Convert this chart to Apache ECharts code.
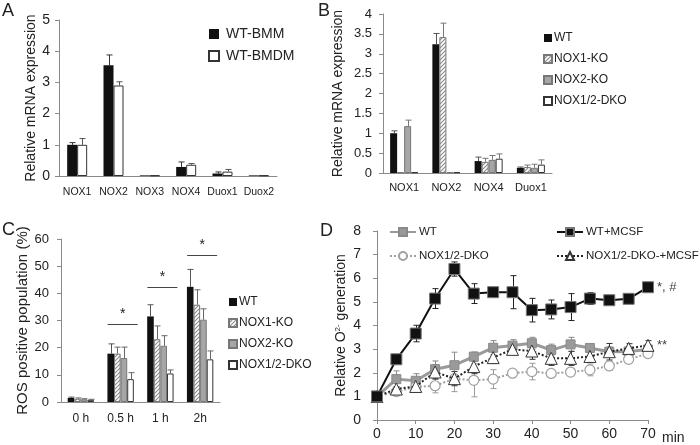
<html>
<head>
<meta charset="UTF-8">
<script src="https://cdn.jsdelivr.net/npm/echarts@6/dist/echarts.min.js"></script>
<style>
  html, body { margin: 0; background: #fff; }
  #chart { width: 700px; height: 445px; }
</style>
</head>
<body>
<div id="chart"></div>
<script>
// ---- data ----
// A: WT BMM vs BMDM
const catsA = ['NOX1', 'NOX2', 'NOX3', 'NOX4', 'Duox1', 'Duox2'];
const bmmA = [1.0, 3.55, 0.02, 0.29, 0.08, 0.02];
const bmmErrA = [0.07, 0.33, 0, 0.16, 0.05, 0];
const bmdmA = [1.0, 2.9, 0.02, 0.36, 0.14, 0.02];
const bmdmErrA = [0.2, 0.12, 0, 0.04, 0.07, 0];

// B: genotypes
const catsB = ['NOX1', 'NOX2', 'NOX4', 'Duox1'];
const wtB = [1.0, 3.24, 0.3, 0.13];
const wtErrB = [0.06, 0.27, 0.1, 0.02];
const ko1B = [0.02, 3.42, 0.28, 0.15];
const ko1ErrB = [0, 0.35, 0.09, 0.05];
const ko2B = [1.18, 0.02, 0.33, 0.13];
const ko2ErrB = [0.15, 0, 0.11, 0.09];
const dkoB = [0.02, 0.02, 0.36, 0.21];
const dkoErrB = [0, 0, 0.12, 0.12];

// C: ROS positive population
const catsC = ['0 h', '0.5 h', '1 h', '2h'];
const wtC = [1.5, 17.8, 31.5, 42.4];
const wtErrC = [0.3, 3.6, 4.3, 6.4];
const ko1C = [1.2, 17.8, 23.1, 35.8];
const ko1ErrC = [0.3, 2.4, 4.9, 5.5];
const ko2C = [1.0, 16.2, 20.7, 30.3];
const ko2ErrC = [0.2, 4.0, 3.7, 4.0];
const dkoC = [0.8, 8.4, 10.5, 15.7];
const dkoErrC = [0.2, 2.4, 1.3, 3.1];
const sigC = [[1, 28.7], [2, 42.3], [3, 54.1]];

// D: O2- generation over time
const timeD = [0, 5, 10, 15, 20, 25, 30, 35, 40, 45, 50, 55, 60, 65, 70];
const wtD = [1.0, 1.73, 1.66, 2.15, 2.32, 2.68, 3.06, 3.15, 3.25, 2.96, 3.2, 3.05, 2.89, 2.9, 2.98];
const wtErrD = [0, 0.35, 0.3, 0.35, 0.55, 0.2, 0.3, 0.25, 0.25, 0.25, 0.3, 0.12, 0.2, 0.2, 0.2];
const wtMcsfD = [1.0, 2.57, 3.66, 5.14, 6.39, 5.35, 5.41, 5.41, 4.65, 4.68, 4.78, 5.14, 5.07, 5.13, 5.62];
const wtMcsfErrD = [0, 0.1, 0.35, 0.42, 0.3, 0.42, 0.1, 0.7, 0.5, 0.4, 0.57, 0.25, 0.1, 0.1, 0.1];
const dkoD = [1.0, 1.2, 1.4, 1.45, 1.75, 1.68, 1.73, 1.98, 2.05, 1.97, 2.03, 2.12, 2.29, 2.57, 2.81];
const dkoErrD = [0, 0.1, 0.1, 0.3, 0.55, 0.7, 0.4, 0.1, 0.35, 0.1, 0.15, 0.25, 0.2, 0.1, 0.1];
const dkoMcsfD = [1.0, 1.31, 1.42, 2.03, 1.75, 2.26, 2.64, 2.99, 2.92, 2.61, 2.61, 2.69, 2.89, 3.03, 3.16];
const dkoMcsfErrD = [0, 0.1, 0.15, 0.3, 0.3, 0.3, 0.25, 0.2, 0.35, 0.3, 0.3, 0.25, 0.35, 0.2, 0.2];

// ---- styles ----
const FONT = 'Liberation Sans, Arial, sans-serif';
const TXT = '#222';
const AX = '#8a8a8a';

function hatchCanvas() {
    const c = document.createElement('canvas');
    c.width = c.height = 4;
    const g = c.getContext('2d');
    g.fillStyle = '#fff';
    g.fillRect(0, 0, 4, 4);
    g.strokeStyle = '#8a8a8a';
    g.lineWidth = 1.1;
    g.beginPath();
    g.moveTo(-1, 5); g.lineTo(5, -1);
    g.moveTo(-1, 1); g.lineTo(1, -1);
    g.moveTo(3, 5); g.lineTo(5, 3);
    g.stroke();
    return c;
}
const black = { color: '#111' };
const white = { color: '#fff', borderColor: '#333', borderWidth: 1 };
const grey = { color: '#a6a6a6', borderColor: '#777', borderWidth: 1 };
const hatched = { color: { image: hatchCanvas(), repeat: 'repeat' }, borderColor: '#777', borderWidth: 1 };

function catX(gi, data, fontSize, margin) {
    return {
        type: 'category', gridIndex: gi, data,
        axisLine: { lineStyle: { color: AX } },
        axisTick: { length: 4, lineStyle: { color: AX } },
        axisLabel: { interval: 0, fontSize, margin, color: TXT, fontFamily: FONT }
    };
}
function valY(gi, max, interval, fontSize, margin, name, nameGap, nameSize) {
    return {
        type: 'value', gridIndex: gi, min: 0, max, interval,
        splitLine: { show: false },
        axisLine: { show: true, lineStyle: { color: AX } },
        axisTick: { show: true, length: 4, lineStyle: { color: AX } },
        axisLabel: { fontSize, margin, color: TXT, fontFamily: FONT },
        name, nameLocation: 'middle', nameGap,
        nameTextStyle: { fontSize: nameSize, color: TXT, fontFamily: FONT }
    };
}
function bars(gi, name, data, style, w) {
    return {
        type: 'bar', name, xAxisIndex: gi, yAxisIndex: gi, data,
        barWidth: w, barGap: '0%', itemStyle: style, z: 2
    };
}
// upper error bar for grouped bars
function errBars(gi, vals, errs, idx, n, w, color) {
    return {
        type: 'custom', name: 'err', xAxisIndex: gi, yAxisIndex: gi, z: 3,
        data: vals.map((v, i) => [i, v, v + errs[i]]).filter(d => d[2] > d[1]),
        encode: { x: 0, y: [1, 2] },
        renderItem: (params, api) => {
            const b = api.coord([api.value(0), api.value(1)]);
            const t = api.coord([api.value(0), api.value(2)]);
            const x = Math.round(b[0] + (idx - (n - 1) / 2) * w) + 0.5;
            const st = { stroke: color, lineWidth: 1 };
            return {
                type: 'group', children: [
                    { type: 'line', shape: { x1: x, y1: b[1], x2: x, y2: t[1] }, style: st },
                    { type: 'line', shape: { x1: x - 3, y1: t[1], x2: x + 3, y2: t[1] }, style: st }
                ]
            };
        }
    };
}
// two-sided error bar for time course
function errD(vals, errs, color) {
    return {
        type: 'custom', name: 'errD', xAxisIndex: 3, yAxisIndex: 3, z: 1,
        data: vals.map((v, i) => [timeD[i], v - errs[i], v + errs[i]]).filter(d => d[2] > d[1]),
        encode: { x: 0, y: [1, 2] },
        renderItem: (params, api) => {
            const lo = api.coord([api.value(0), api.value(1)]);
            const hi = api.coord([api.value(0), api.value(2)]);
            const x = Math.round(lo[0]) + 0.5;
            const st = { stroke: color, lineWidth: 1 };
            return {
                type: 'group', children: [
                    { type: 'line', shape: { x1: x, y1: lo[1], x2: x, y2: hi[1] }, style: st },
                    { type: 'line', shape: { x1: x - 3, y1: hi[1], x2: x + 3, y2: hi[1] }, style: st },
                    { type: 'line', shape: { x1: x - 3, y1: lo[1], x2: x + 3, y2: lo[1] }, style: st }
                ]
            };
        }
    };
}
const zip = (ys) => ys.map((y, i) => [timeD[i], y]);
const trimName = (n) => n.trim();

const legendBase = {
    orient: 'vertical', selectedMode: false, icon: 'rect', formatter: trimName,
    textStyle: { color: TXT, fontFamily: FONT, fontSize: 12, padding: [0, 0, 0, -3] }
};

const chart = echarts.init(document.getElementById('chart'));
chart.setOption({
    animation: false,
    textStyle: { fontFamily: FONT },
    title: ['A', 'B', 'C', 'D'].map((t, i) => ({
        text: t, left: [0, 316, 0, 318][i], top: [0, 0, 219, 220][i], padding: 2,
        textStyle: { fontSize: 18, fontWeight: 'normal', color: TXT, fontFamily: FONT }
    })),
    grid: [
        { left: 59, top: 20, width: 218, height: 156 },
        { left: 383, top: 14, width: 169, height: 159 },
        { left: 61, top: 239, width: 159, height: 163 },
        { left: 377, top: 231, width: 271, height: 190 }
    ],
    legend: [
        Object.assign({}, legendBase, {
            left: 203, top: 22, itemWidth: 10, itemHeight: 10, itemGap: 8,
            data: ['WT-BMM', 'WT-BMDM'],
            textStyle: Object.assign({}, legendBase.textStyle, { fontSize: 14, padding: [0, 0, 0, 2] })
        }),
        Object.assign({}, legendBase, {
            left: 538, top: 27, itemWidth: 8, itemHeight: 8, itemGap: 9,
            data: ['WT', 'NOX1-KO', 'NOX2-KO', 'NOX1/2-DKO']
        }),
        Object.assign({}, legendBase, {
            left: 223, top: 291, itemWidth: 8, itemHeight: 8, itemGap: 9,
            data: ['WT ', 'NOX1-KO ', 'NOX2-KO ', 'NOX1/2-DKO ']
        }),
        Object.assign({}, legendBase, {
            left: 384, top: 221, itemWidth: 26, itemHeight: 10, itemGap: 12, icon: null,
            data: ['WT  ', 'NOX1/2-DKO  '],
            textStyle: Object.assign({}, legendBase.textStyle, { fontSize: 11.5, padding: [0, 0, 0, -2] })
        }),
        Object.assign({}, legendBase, {
            left: 551, top: 221, itemWidth: 26, itemHeight: 10, itemGap: 12, icon: null,
            data: ['WT+MCSF', 'NOX1/2-DKO-+MCSF'],
            textStyle: Object.assign({}, legendBase.textStyle, { fontSize: 11.5, padding: [0, 0, 0, -2] })
        })
    ],
    xAxis: [
        catX(0, catsA, 10.5, 11),
        catX(1, catsB, 11, 9),
        catX(2, catsC, 12, 11),
        {
            type: 'value', gridIndex: 3, min: 0, max: 70, interval: 10,
            splitLine: { show: false },
            axisLine: { lineStyle: { color: AX } },
            axisTick: { length: 4, lineStyle: { color: AX } },
            axisLabel: { fontSize: 14, margin: 7, color: TXT, fontFamily: FONT },
            name: 'min', nameLocation: 'end', nameGap: 14,
            nameTextStyle: { fontSize: 14, color: TXT, fontFamily: FONT, verticalAlign: 'top', padding: [11, 0, 0, 0] }
        }
    ],
    yAxis: [
        valY(0, 5, 1, 14, 9, 'Relative mRNA expression', 19, 14),
        valY(1, 4, 0.5, 13, 11, 'Relative mRNA expression', 38, 14),
        valY(2, 60, 10, 13, 12, 'ROS positive population (%)', 23, 15),
        Object.assign(valY(3, 8, 1, 14, 16, 'Relative O{sup|2-} generation', 29, 14), {
            nameTextStyle: {
                fontSize: 14, color: TXT, fontFamily: FONT,
                rich: { sup: { fontSize: 8, verticalAlign: 'top', padding: [0, 0, 6, 0], color: TXT } }
            }
        })
    ],
    series: [
        // A
        bars(0, 'WT-BMM', bmmA, black, 10),
        bars(0, 'WT-BMDM', bmdmA, white, 10),
        errBars(0, bmmA, bmmErrA, 0, 2, 10, '#333'),
        errBars(0, bmdmA, bmdmErrA, 1, 2, 10, '#555'),
        // B
        bars(1, 'WT', wtB, black, 7),
        bars(1, 'NOX1-KO', ko1B, hatched, 7),
        bars(1, 'NOX2-KO', ko2B, grey, 7),
        bars(1, 'NOX1/2-DKO', dkoB, white, 7),
        errBars(1, wtB, wtErrB, 0, 4, 7, '#555'),
        errBars(1, ko1B, ko1ErrB, 1, 4, 7, '#777'),
        errBars(1, ko2B, ko2ErrB, 2, 4, 7, '#777'),
        errBars(1, dkoB, dkoErrB, 3, 4, 7, '#777'),
        // C
        bars(2, 'WT ', wtC, black, 6.6),
        bars(2, 'NOX1-KO ', ko1C, hatched, 6.6),
        bars(2, 'NOX2-KO ', ko2C, grey, 6.6),
        bars(2, 'NOX1/2-DKO ', dkoC, white, 6.6),
        errBars(2, wtC, wtErrC, 0, 4, 6.6, '#555'),
        errBars(2, ko1C, ko1ErrC, 1, 4, 6.6, '#666'),
        errBars(2, ko2C, ko2ErrC, 2, 4, 6.6, '#666'),
        errBars(2, dkoC, dkoErrC, 3, 4, 6.6, '#666'),
        {
            type: 'custom', name: 'sig', xAxisIndex: 2, yAxisIndex: 2, z: 4,
            data: sigC,
            renderItem: (params, api) => {
                const p = api.coord([api.value(0), api.value(1)]);
                const y = Math.round(p[1]) + 0.5;
                return {
                    type: 'group', children: [
                        { type: 'line', shape: { x1: p[0] - 13, y1: y, x2: p[0] + 17, y2: y }, style: { stroke: '#444', lineWidth: 1 } },
                        { type: 'text', x: p[0] + 2, y: y - 3, style: { text: '*', fontSize: 14, fill: TXT, align: 'center', verticalAlign: 'bottom', font: '14px ' + FONT } }
                    ]
                };
            }
        },
        // D
        errD(wtD, wtErrD, '#8a8a8a'),
        errD(dkoD, dkoErrD, '#9a9a9a'),
        errD(dkoMcsfD, dkoMcsfErrD, '#333'),
        errD(wtMcsfD, wtMcsfErrD, '#222'),
        {
            type: 'line', name: 'WT  ', xAxisIndex: 3, yAxisIndex: 3, data: zip(wtD), z: 2,
            symbol: 'rect', symbolSize: 9,
            lineStyle: { color: '#9a9a9a', width: 3 },
            itemStyle: { color: '#9a9a9a', borderColor: '#8a8a8a', borderWidth: 1 }
        },
        {
            type: 'line', name: 'NOX1/2-DKO  ', xAxisIndex: 3, yAxisIndex: 3, data: zip(dkoD), z: 3,
            symbol: 'circle', symbolSize: 10,
            lineStyle: { color: '#a0a0a0', width: 2, type: 'dotted' },
            itemStyle: { color: '#fff', borderColor: '#a0a0a0', borderWidth: 1.2 }
        },
        {
            type: 'line', name: 'NOX1/2-DKO-+MCSF', xAxisIndex: 3, yAxisIndex: 3, data: zip(dkoMcsfD), z: 4,
            symbol: 'triangle', symbolSize: 12,
            lineStyle: { color: '#222', width: 2, type: 'dotted' },
            itemStyle: { color: '#fff', borderColor: '#333', borderWidth: 1 },
            endLabel: { show: true, formatter: '**', distance: 9, fontSize: 13, color: '#444', fontFamily: FONT }
        },
        {
            type: 'line', name: 'WT+MCSF', xAxisIndex: 3, yAxisIndex: 3, data: zip(wtMcsfD), z: 5,
            symbol: 'rect', symbolSize: 11,
            lineStyle: { color: '#111', width: 2 },
            itemStyle: { color: '#111', borderColor: '#777', borderWidth: 1 },
            endLabel: { show: true, formatter: '*, #', distance: 9, fontSize: 13, color: '#444', fontFamily: FONT }
        }
    ]
});
</script>
</body>
</html>
